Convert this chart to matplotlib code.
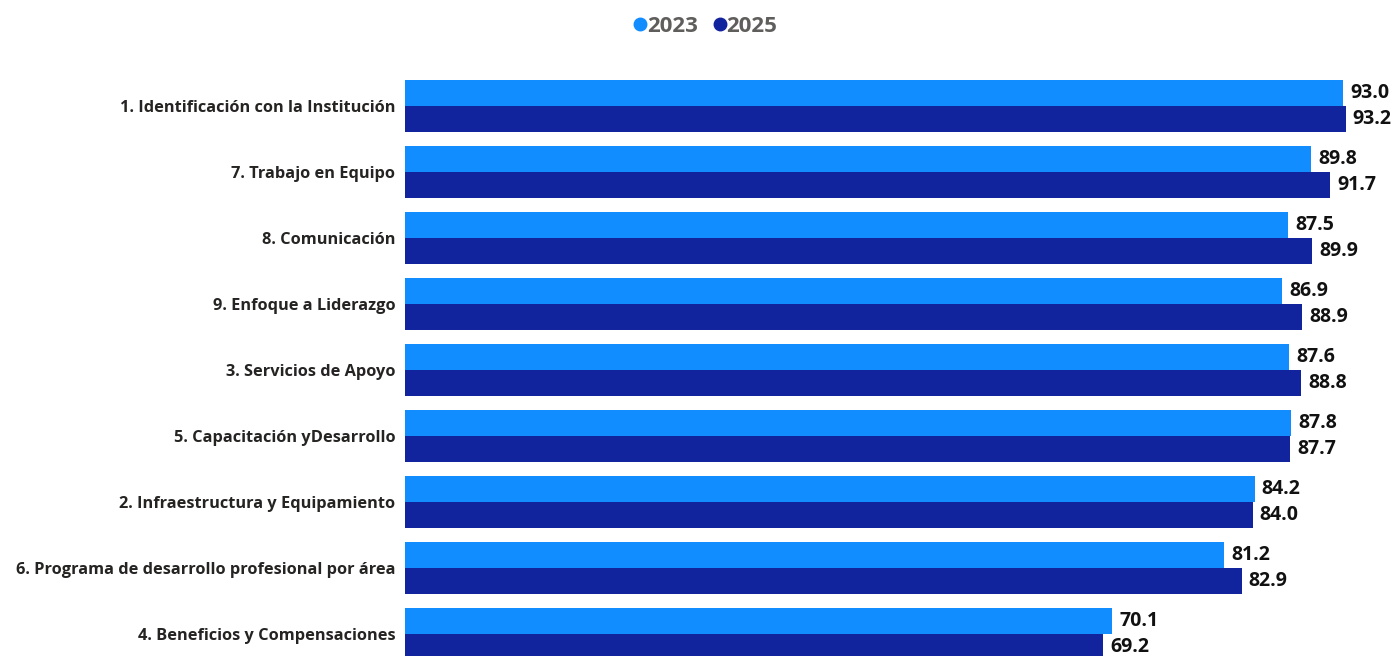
import matplotlib
matplotlib.use("Agg")
import matplotlib.pyplot as plt
from matplotlib.lines import Line2D
import numpy as np

# data
categories = [
    "1. Identificación con la Institución",
    "7. Trabajo en Equipo",
    "8. Comunicación",
    "9. Enfoque a Liderazgo",
    "3. Servicios de Apoyo",
    "5. Capacitación yDesarrollo",
    "2. Infraestructura y Equipamiento",
    "6. Programa de desarrollo profesional por área",
    "4. Beneficios y Compensaciones",
]
v2023 = [93.0, 89.8, 87.5, 86.9, 87.6, 87.8, 84.2, 81.2, 70.1]
v2025 = [93.2, 91.7, 89.9, 88.9, 88.8, 87.7, 84.0, 82.9, 69.2]
series = ["2023", "2025"]
colors = ["#118DFF", "#12239E"]

plt.rcParams['font.family'] = ['Open Sans', 'DejaVu Sans']

W, H = 1399, 656
fig = plt.figure(figsize=(W / 100, H / 100), dpi=100)
ax = fig.add_axes([405 / W, 0, 1 - 405 / W, 1 - 73 / H])

y = np.arange(len(categories))
h = 0.394
ax.barh(y - h / 2, v2023, height=h, color=colors[0], edgecolor="none")
ax.barh(y + h / 2, v2025, height=h, color=colors[1], edgecolor="none")

for i in range(len(categories)):
    ax.annotate(f"{v2023[i]:.1f}", (v2023[i], y[i] - h / 2), xytext=(5, 0),
                textcoords="offset points", va="center", ha="left",
                fontsize=14, fontweight="bold", color="#111111")
    ax.annotate(f"{v2025[i]:.1f}", (v2025[i], y[i] + h / 2), xytext=(5, 0),
                textcoords="offset points", va="center", ha="left",
                fontsize=14, fontweight="bold", color="#111111")

ax.set_xlim(0, 98.5)
ax.set_ylim((H - 106) / 66, -0.5)
ax.set_yticks(y)
ax.set_yticklabels(categories, fontsize=11.8, fontweight="bold", color="#252423")
ax.tick_params(axis="y", length=0, pad=7)
ax.set_xticks([])
for s in ax.spines.values():
    s.set_visible(False)

handles = [Line2D([], [], marker="o", linestyle="none", markersize=9,
                  color=c) for c in colors]
leg = fig.legend(handles, series, loc="center", bbox_to_anchor=(702 / W, 1 - 26 / H),
                 ncol=2, frameon=False, handletextpad=-0.3, columnspacing=0.4,
                 handlelength=1.2, prop={"size": 16, "weight": "bold"})
for t in leg.get_texts():
    t.set_color("#605E5C")

fig.savefig("out.png", dpi=100)
